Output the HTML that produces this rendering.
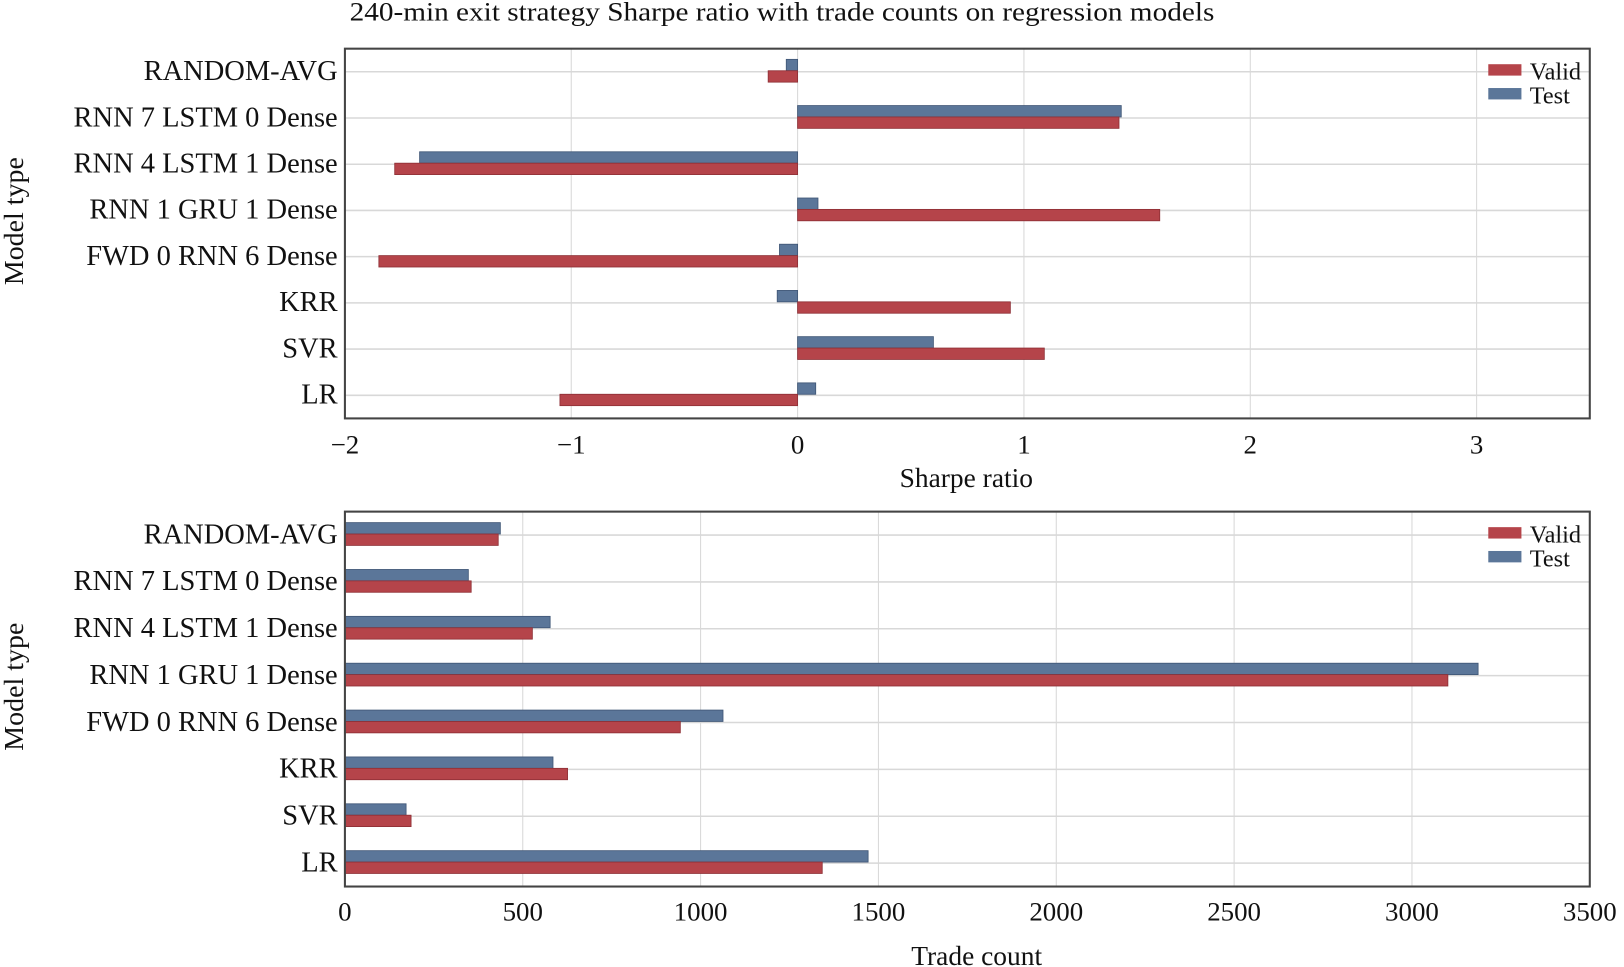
<!DOCTYPE html>
<html><head><meta charset="utf-8"><style>
html,body{margin:0;padding:0;background:#fff}
svg{display:block}
text{font-family:"Liberation Serif",serif;fill:#111}
</style></head><body>
<svg id="chart" width="1624" height="967" viewBox="0 0 1568 933.7" xmlns="http://www.w3.org/2000/svg">
<text x="755" y="20" font-size="25.5" text-anchor="middle" textLength="835" lengthAdjust="spacingAndGlyphs">240-min exit strategy Sharpe ratio with trade counts on regression models</text>
<g id="top"></g>
<g id="bot"></g>
</svg>
<script>
const categories = ["RANDOM-AVG","RNN 7 LSTM 0 Dense","RNN 4 LSTM 1 Dense","RNN 1 GRU 1 Dense","FWD 0 RNN 6 Dense","KRR","SVR","LR"];
const sharpeValid = [-0.13, 1.42, -1.78, 1.60, -1.85, 0.94, 1.09, -1.05];
const sharpeTest = [-0.05, 1.43, -1.67, 0.09, -0.08, -0.09, 0.60, 0.08];
const sharpeTicks = [-2, -1, 0, 1, 2, 3];
const sharpeTickLabels = ["\u22122", "\u22121", "0", "1", "2", "3"];
const tradeValid = [431, 355, 527, 3101, 943, 626, 186, 1342];
const tradeTest = [437, 347, 577, 3186, 1063, 585, 172, 1471];
const tradeTicks = [0, 500, 1000, 1500, 2000, 2500, 3000, 3500];
const tradeTickLabels = ["0","500","1000","1500","2000","2500","3000","3500"];
const NS = "http://www.w3.org/2000/svg";
function mk(parent, tag, attrs, txt){
  const e = document.createElementNS(NS, tag);
  for (const k in attrs) e.setAttribute(k, attrs[k]);
  if (txt !== undefined) e.textContent = txt;
  parent.appendChild(e);
  return e;
}
function panel(g, cfg){
  const L=333, R=1535, T=cfg.top, B=cfg.bottom;
  const x = v => L + (v - cfg.min) / (cfg.max - cfg.min) * (R - L);
  const band = (B - T) / categories.length;
  const yc = i => T + band * (i + 0.5);
  cfg.ticks.forEach((t, i) => {
    const gl = mk(g, "line", {x1:x(t), x2:x(t), y1:T, y2:B, stroke:"#d8d8d8", "stroke-width":1});
    
    
    const tl = mk(g, "text", {x:x(t), y:cfg.tickY, "font-size":26, "text-anchor":"middle"}, cfg.tickLabels[i]);
    
    
  });
  categories.forEach((c, i) => {
    const gl = mk(g, "line", {x1:L, x2:R, y1:yc(i), y2:yc(i), stroke:"#d8d8d8", "stroke-width":1.5});
    
    
    const lab = mk(g, "text", {x:326, y:yc(i)+8, "font-size":27.5, "text-anchor":"end"}, c);
    
    
    const z = x(Math.max(cfg.min, 0));
    const tv = cfg.test[i], vv = cfg.valid[i];
    const tb = mk(g, "rect", {x:Math.min(z, x(tv)), y:yc(i)-12, width:Math.abs(x(tv)-z), height:11, fill:"#5b7699", stroke:"#3f5676", "stroke-width":0.8});
    
    
    const vb = mk(g, "rect", {x:Math.min(z, x(vv)), y:yc(i)-1, width:Math.abs(x(vv)-z), height:11, fill:"#b5444a", stroke:"#8e2f35", "stroke-width":0.8});
    
    
  });
  const fr = mk(g, "rect", {x:L, y:T, width:R-L, height:B-T, fill:"none", stroke:"#444", "stroke-width":2});
  
  
  const ly = T + 15;
  const s1 = mk(g, "rect", {x:1437, y:ly, width:32, height:11, fill:"#b5444a"});
  
  
  const t1 = mk(g, "text", {x:1477, y:ly+15, "font-size":23.5}, "Valid");
  
  
  const s2 = mk(g, "rect", {x:1437, y:ly+23, width:32, height:11, fill:"#5b7699"});
  
  
  const t2 = mk(g, "text", {x:1477, y:ly+38, "font-size":23.5}, "Test");
  
  
  const xt = mk(g, "text", {x:cfg.xTitleX, y:cfg.xTitleY, "font-size":26.5, "text-anchor":"middle"}, cfg.xTitle);
  
  
  const ym = (T + B) / 2;
  const yt = mk(g, "text", {x:0, y:0, "font-size":27, "text-anchor":"middle", transform:`translate(22,${ym - 12}) rotate(-90)`}, "Model type");
  
  
}
panel(document.getElementById("top"), {top:47, bottom:404, min:-2, max:3.5, ticks:sharpeTicks, tickLabels:sharpeTickLabels, valid:sharpeValid, test:sharpeTest, tickY:438, xTitle:"Sharpe ratio", xTitleX:933, xTitleY:470});
panel(document.getElementById("bot"), {top:494, bottom:856, min:0, max:3500, ticks:tradeTicks, tickLabels:tradeTickLabels, valid:tradeValid, test:tradeTest, tickY:889, xTitle:"Trade count", xTitleX:943, xTitleY:932});
</script>
</body></html>
